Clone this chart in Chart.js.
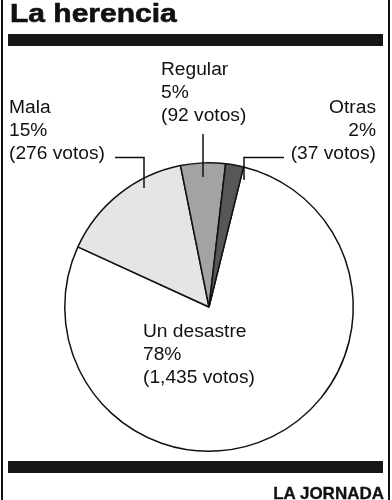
<!DOCTYPE html>
<html>
<head>
<meta charset="utf-8">
<script src="https://cdn.jsdelivr.net/npm/chart.js@4/dist/chart.umd.min.js"></script>
<style>
  html, body { margin: 0; padding: 0; background: #fff; }
  #wrap { position: relative; width: 392px; height: 500px; overflow: hidden; font-family: "Liberation Sans", Arial, sans-serif; color: #111; }
  #chart { position: absolute; left: 0; top: 0; }
  .frame { position: absolute; top: 0; bottom: 0; width: 2px; background: #111; }
  .bar { position: absolute; left: 8px; width: 375px; height: 12px; background: #161616; }
  .title { position: absolute; left: 10px; top: -2px; font-size: 25px; font-weight: bold; line-height: 30px; transform: scaleX(1.2); transform-origin: left top; white-space: nowrap; -webkit-text-stroke: 0.6px #111; }
  .lbl { position: absolute; font-size: 19.2px; line-height: 23px; white-space: nowrap; }
  .src { position: absolute; right: 8px; top: 483px; font-size: 17px; font-weight: bold; line-height: 22px; -webkit-text-stroke: 0.3px #111; }
</style>
</head>
<body>
<div id="wrap">
  <canvas id="chart" width="392" height="500"></canvas>
  <div class="frame" style="left:1px"></div>
  <div class="frame" style="left:388px"></div>
  <div class="title">La herencia</div>
  <div class="bar" style="top:34px"></div>
  <div class="bar" style="top:461px"></div>
  <div class="lbl" id="lbl-0" style="left:143px; top:319px"></div>
  <div class="lbl" id="lbl-1" style="left:9px; top:95px"></div>
  <div class="lbl" id="lbl-2" style="left:161px; top:57px"></div>
  <div class="lbl" id="lbl-3" style="right:16px; top:95px; text-align:right"></div>
  <div class="src">LA JORNADA</div>
</div>
<script>
// Resultados de la encuesta
const categories = ['Un desastre', 'Mala', 'Regular', 'Otras'];
const votes = [1435, 276, 92, 37];
const percents = ['78%', '15%', '5%', '2%'];
const sliceColors = ['#ffffff', '#e5e5e5', '#a3a3a3', '#575757'];

// leader lines: [x, y] polylines from label to slice
const leaders = [
    null,
    [[115, 157.5], [144, 157.5], [144, 188]],
    [[203, 134], [203, 177]],
    [[284, 157.5], [244, 157.5], [244, 180]],
];

categories.forEach((c, i) => {
    const el = document.getElementById('lbl-' + i);
    el.innerHTML = `${c}<br>${percents[i]}<br>(${votes[i].toLocaleString('en-US')} votos)`;
});

const leaderPlugin = {
    id: 'leaders',
    afterDatasetsDraw(chart) {
        const ctx = chart.ctx;
        ctx.save();
        ctx.strokeStyle = '#111';
        ctx.lineWidth = 1.5;
        leaders.forEach(pts => {
            if (!pts) return;
            ctx.beginPath();
            pts.forEach((p, j) => j ? ctx.lineTo(p[0], p[1]) : ctx.moveTo(p[0], p[1]));
            ctx.stroke();
        });
        ctx.restore();
    }
};

new Chart(document.getElementById('chart'), {
    type: 'pie',
    data: {
        labels: categories,
        datasets: [{
            data: votes,
            backgroundColor: sliceColors,
            borderColor: '#111',
            borderWidth: 1.5,
        }],
    },
    options: {
        responsive: false,
        animation: false,
        rotation: 13.85,
        layout: { padding: { left: 64, top: 162, right: 38, bottom: 48 } },
        plugins: { legend: { display: false }, tooltip: { enabled: false } },
    },
    plugins: [leaderPlugin],
});
</script>
</body>
</html>
